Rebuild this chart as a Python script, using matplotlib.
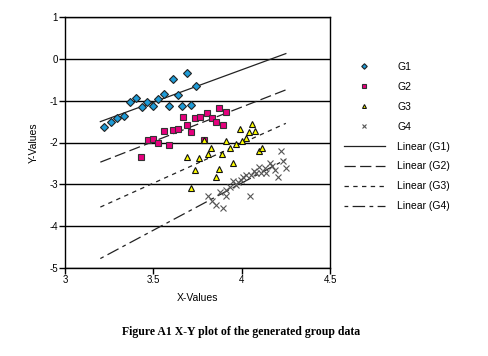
import numpy as np
import matplotlib
matplotlib.use("Agg")
import matplotlib.pyplot as plt

plt.rcParams['font.family'] = ['Liberation Sans', 'DejaVu Sans']
plt.rcParams['axes.unicode_minus'] = False

# group data
g1_x = [3.222, 3.260, 3.297, 3.333, 3.369, 3.403, 3.435, 3.465, 3.497, 3.527,
        3.558, 3.586, 3.612, 3.638, 3.665, 3.691, 3.714, 3.739]
g1_y = [-1.62, -1.50, -1.42, -1.36, -1.02, -0.94, -1.14, -1.02, -1.13, -0.95,
        -0.83, -1.13, -0.47, -0.85, -1.13, -0.34, -1.10, -0.65]

g2_x = [3.433, 3.467, 3.497, 3.527, 3.558, 3.586, 3.612, 3.638, 3.666, 3.689,
        3.714, 3.736, 3.763, 3.785, 3.806, 3.831, 3.852, 3.870, 3.893, 3.912]
g2_y = [-2.35, -1.95, -1.92, -2.01, -1.73, -2.07, -1.71, -1.68, -1.40, -1.59,
        -1.76, -1.42, -1.39, -1.95, -1.30, -1.42, -1.51, -1.18, -1.58, -1.28]

g3_x = [4.060, 3.989, 4.041, 4.077, 4.024, 4.004, 3.970, 3.911, 3.932, 3.829,
        3.784, 3.808, 3.891, 4.096, 4.113, 3.691, 3.761, 3.951, 3.738, 3.872,
        3.852, 3.716]
g3_y = [-1.55, -1.68, -1.74, -1.73, -1.89, -1.97, -2.03, -1.96, -2.13, -2.12,
        -1.95, -2.27, -2.27, -2.21, -2.14, -2.34, -2.37, -2.48, -2.65, -2.63,
        -2.83, -3.09]

g4_x = [4.220, 4.233, 4.249, 4.205, 4.158, 4.186, 4.140, 4.096, 4.111, 4.079,
        4.055, 4.023, 3.998, 3.979, 3.951, 3.970, 3.932, 3.910, 3.876, 3.914,
        3.808, 3.831, 3.852, 3.893, 4.045, 4.130, 4.170, 4.070, 4.010]
g4_y = [-2.20, -2.44, -2.60, -2.83, -2.49, -2.67, -2.73, -2.59, -2.73, -2.73,
        -2.77, -2.77, -2.89, -2.94, -2.92, -3.01, -3.07, -3.13, -3.19, -3.27,
        -3.29, -3.41, -3.49, -3.57, -3.29, -2.62, -2.57, -2.68, -2.82]

trend_x = [3.2, 4.25]

fig = plt.figure(figsize=(4.88, 3.56), dpi=100)
ax = fig.add_axes([65 / 488, 1 - 267.7 / 356, 265 / 488, 250.4 / 356])

ms = 4.3
ax.plot(g1_x, g1_y, 'D', ms=ms, mfc='#1E9BD7', mec='#222222', mew=0.8, label='G1', zorder=4)
ax.plot(g2_x, g2_y, 's', ms=ms, mfc='#E6007E', mec='#333333', mew=0.8, label='G2', zorder=4)
ax.plot(g3_x, g3_y, '^', ms=ms, mfc='#FFFF00', mec='#111111', mew=0.8, label='G3', zorder=4)
ax.plot(g4_x, g4_y, 'x', ms=ms + 0.7, mec='#555555', mew=0.8, label='G4', zorder=4)

styles = ['-', (0, (9, 3.5)), (0, (3.5, 3.5)), (0, (3, 3.5, 10, 3.5))]
groups = [(g1_x, g1_y), (g2_x, g2_y), (g3_x, g3_y), (g4_x, g4_y)]
for i, ((gx, gy), ls) in enumerate(zip(groups, styles)):
    k, b = np.polyfit(gx, gy, 1)
    tx = np.array(trend_x)
    ax.plot(tx, k * tx + b, color='#222222', lw=0.9, ls=ls,
            label='Linear (G%d)' % (i + 1), zorder=3)

ax.set_xlim(3, 4.5)
ax.set_ylim(-5, 1)
ax.set_xticks([3, 3.5, 4, 4.5])
ax.set_xticklabels(['3', '3.5', '4', '4.5'])
ax.set_yticks(range(-5, 2))
ax.yaxis.grid(True, color='black', lw=1)
ax.set_axisbelow(True)
for s in ax.spines.values():
    s.set_linewidth(1)
ax.tick_params(direction='out', length=4, width=1, labelsize=7, pad=1)
ax.set_xlabel('X-Values', fontsize=7.5, labelpad=6)
ax.set_ylabel('Y-Values', fontsize=7.5, labelpad=8)

ax.legend(loc='upper left', bbox_to_anchor=(344 / 488, 1 - 62 / 356),
          bbox_transform=fig.transFigure, frameon=False, fontsize=7.5,
          handlelength=3.9, handletextpad=1.2, labelspacing=0.95,
          borderaxespad=0, borderpad=0, markerscale=0.65)

fig.text(241 / 488, 1 - 332 / 356, 'Figure A1 X-Y plot of the generated group data',
         ha='center', va='center', family='Liberation Serif', weight='bold', fontsize=8.5)

fig.savefig('out.png', dpi=100)
